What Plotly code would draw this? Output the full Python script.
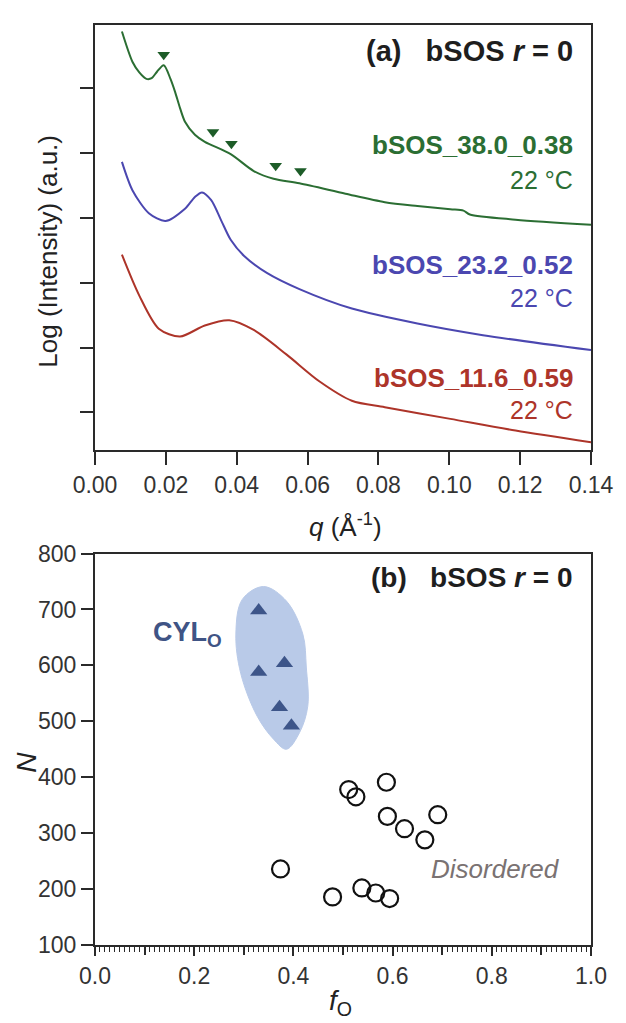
import plotly.graph_objects as go

# ---- (a) SAXS profiles: q in 1/Angstrom, log intensity with vertical offsets ----
q_green = [0.0076, 0.0106, 0.0125, 0.0145, 0.0160, 0.0175, 0.0194, 0.0213, 0.0226, 0.0240, 0.0254,
           0.0282, 0.0310, 0.0383, 0.0448, 0.0504, 0.0577, 0.0707, 0.0818, 0.0910,
           0.1003, 0.1040, 0.1058, 0.1187, 0.1400]
logI_green = [5.87, 5.40, 5.24, 5.14, 5.15, 5.25, 5.35, 5.14, 4.94, 4.69, 4.48,
              4.28, 4.17, 3.98, 3.72, 3.60, 3.53, 3.37, 3.24, 3.18,
              3.13, 3.11, 3.05, 2.97, 2.89]

q_blue = [0.0076, 0.0106, 0.0152, 0.0199, 0.0254, 0.0282, 0.0302, 0.0328, 0.0356,
          0.0383, 0.0421, 0.0485, 0.0577, 0.0725, 0.0910, 0.1095, 0.1400]
logI_blue = [3.86, 3.42, 3.07, 2.95, 3.14, 3.32, 3.39, 3.27, 2.96,
             2.66, 2.41, 2.15, 1.90, 1.60, 1.37, 1.19, 0.96]

q_red = [0.0076, 0.0125, 0.0180, 0.0240, 0.0310, 0.0379, 0.0448, 0.0541, 0.0633,
         0.0725, 0.0818, 0.1003, 0.1187, 0.1400]
logI_red = [2.43, 1.80, 1.29, 1.17, 1.34, 1.42, 1.27, 0.89, 0.48,
            0.18, 0.08, -0.10, -0.28, -0.46]

# Bragg reflections of the hexagonal sample (q*, sqrt3 q*, 2q*, sqrt7 q*, 3q*)
peak_q = [0.0194, 0.0333, 0.0385, 0.0510, 0.0580]
peak_logI = [5.51, 4.32, 4.14, 3.80, 3.72]

samples = ["bSOS_38.0_0.38", "bSOS_23.2_0.52", "bSOS_11.6_0.59"]
temperature = "22 °C"

q_ticks = [0.00, 0.02, 0.04, 0.06, 0.08, 0.10, 0.12, 0.14]
logI_ticks = [0, 1, 2, 3, 4, 5]

# ---- (b) morphology map: f_O vs N ----
f_cyl = [0.330, 0.382, 0.330, 0.372, 0.396]
N_cyl = [698, 604, 588, 525, 492]

f_dis = [0.5875, 0.5115, 0.526, 0.691, 0.5895, 0.624, 0.665, 0.374, 0.479, 0.538, 0.566, 0.594]
N_dis = [391, 378, 365, 333, 330, 308, 288, 236, 186, 202, 193, 183]

# outline of the shaded CYL_O region (f_O, N)
cyl_region_f = [0.429, 0.4125, 0.386, 0.360, 0.327, 0.294, 0.284, 0.297, 0.340, 0.386, 0.419, 0.426, 0.429]
cyl_region_N = [527, 480, 450, 468, 509, 585, 656, 718, 741, 715, 656, 597, 527]

f_label_ticks = [0.0, 0.2, 0.4, 0.6, 0.8, 1.0]
f_mid_ticks = [0.1, 0.3, 0.5, 0.7, 0.9]

GREEN = "#2b6e33"
BLUE = "#4b47b0"
RED = "#ad3429"
INK = "#1e1e1e"
FONT = "Liberation Sans, Arial, sans-serif"

fig = go.Figure()

for q, li, c in [(q_green, logI_green, GREEN), (q_blue, logI_blue, BLUE), (q_red, logI_red, RED)]:
    fig.add_trace(go.Scatter(x=q, y=li, mode="lines", xaxis="x", yaxis="y",
                             line=dict(color=c, width=2, shape="spline", smoothing=0.8),
                             showlegend=False, hoverinfo="skip"))

fig.add_trace(go.Scatter(x=peak_q, y=peak_logI, mode="markers", xaxis="x", yaxis="y",
                         marker=dict(symbol="triangle-down", size=11, color="#1d5c28"),
                         showlegend=False))

fig.add_trace(go.Scatter(x=cyl_region_f, y=cyl_region_N, mode="lines", xaxis="x2", yaxis="y2",
                         fill="toself", fillcolor="#b9cae8",
                         line=dict(color="#b9cae8", width=1, shape="spline", smoothing=1.0),
                         showlegend=False, hoverinfo="skip"))

fig.add_trace(go.Scatter(x=f_cyl, y=N_cyl, mode="markers", xaxis="x2", yaxis="y2",
                         marker=dict(symbol="triangle-up", size=15, color="#3d5589"),
                         showlegend=False))

fig.add_trace(go.Scatter(x=f_dis, y=N_dis, mode="markers", xaxis="x2", yaxis="y2",
                         marker=dict(symbol="circle-open", size=17, color="#111111",
                                     line=dict(width=2.2, color="#111111")),
                         showlegend=False))

axis_common = dict(showline=True, linewidth=2, linecolor="#2a2a2a", mirror=True,
                   showgrid=False, zeroline=False, ticks="outside", tickwidth=2,
                   tickcolor="#2a2a2a", tickfont=dict(family=FONT, size=23, color="#333333"))

fig.update_layout(
    width=626, height=1023,
    margin=dict(l=95, r=26, t=12, b=78),
    paper_bgcolor="white", plot_bgcolor="white",
    xaxis=dict(axis_common, domain=[0, 1], anchor="y", range=[0, 0.14],
               tickmode="array", tickvals=q_ticks, tickformat=".2f", ticklen=13),
    yaxis=dict(axis_common, domain=[0.538, 1.0], anchor="x", range=[-0.58, 5.97],
               tickmode="array", tickvals=logI_ticks, showticklabels=False, ticklen=13),
    xaxis2=dict(axis_common, domain=[0, 1], anchor="y2", range=[0, 1.0],
                tickmode="array", tickvals=f_label_ticks, tickformat=".1f", ticklen=9,
                minor=dict(tickmode="linear", tick0=0, dtick=0.01, ticks="outside",
                           ticklen=5, tickwidth=1.2, tickcolor="#2a2a2a")),
    # unlabeled intermediate major ticks on the f_O axis
    xaxis3=dict(overlaying="x2", anchor="y2", range=[0, 1.0], side="bottom",
                showline=False, showgrid=False, zeroline=False, showticklabels=False,
                tickmode="array", tickvals=f_mid_ticks, ticks="outside", ticklen=9,
                tickwidth=2, tickcolor="#2a2a2a"),
    yaxis2=dict(axis_common, domain=[0, 0.4255], anchor="x2", range=[100, 800],
                tickmode="linear", tick0=100, dtick=100, ticklen=12),
)

# keep the overlay axis alive with an invisible trace
fig.add_trace(go.Scatter(x=[f_mid_ticks[0]], y=[N_dis[0]], xaxis="x3", yaxis="y2",
                         mode="markers", marker=dict(opacity=0), showlegend=False,
                         hoverinfo="skip"))


def px(x):
    return (x - 95) / 505


def py(y):
    return (945 - y) / 933


def label(text, x, y, size, color=INK, xanchor="right", angle=0):
    fig.add_annotation(text=text, x=px(x), y=py(y), xref="paper", yref="paper",
                       xanchor=xanchor, yanchor="middle", showarrow=False, textangle=angle,
                       font=dict(family=FONT, size=size, color=color))


nb = "\u00a0"
label(f"<b>(a){nb}{nb}{nb}bSOS <i>r</i> = 0</b>", 584, 38, 29)
label(f"<b>{samples[0]}</b>", 584, 134, 26, GREEN)
label(temperature, 584, 169, 25, GREEN)
label(f"<b>{samples[1]}</b>", 584, 255, 26, BLUE)
label(temperature, 584, 289, 25, BLUE)
label(f"<b>{samples[2]}</b>", 584, 370, 26, RED)
label(temperature, 584, 402, 25, RED)

label("Log (Intensity) (a.u.)", 47, 241, 26, "#222222", xanchor="center", angle=-90)
label("<i>q</i> (Å<sup>-1</sup>)", 350, 520, 26, "#222222", xanchor="center")

label(f"<b>(b){nb}{nb}{nb}bSOS <i>r</i> = 0</b>", 584, 572, 28)
label("<b>CYL<sub>O</sub></b>", 152, 630, 27, "#3f5485", xanchor="left")
label("<i>Disordered</i>", 435, 868, 26, "#7a7272", xanchor="left")
label("<i>N</i>", 25, 760, 28, "#222222", xanchor="center", angle=-90)
label("<i>f</i><sub>O</sub>", 345, 1003, 28, "#222222", xanchor="center")

fig.write_html("out.html")
